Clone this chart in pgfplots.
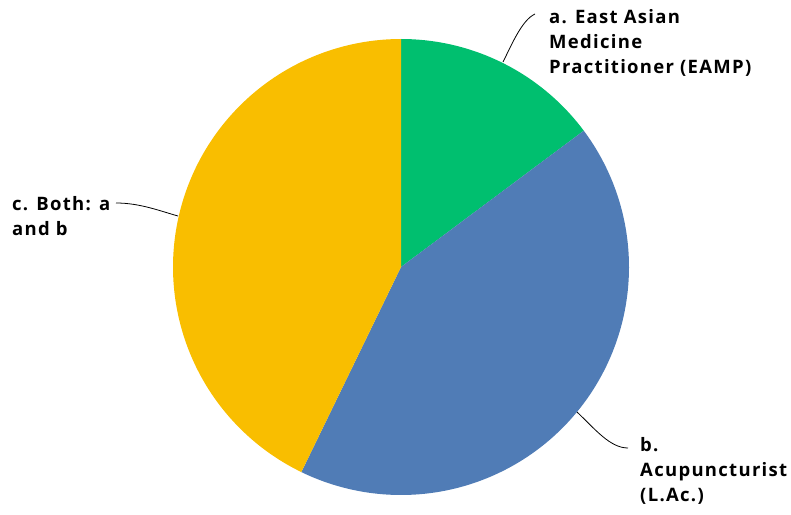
\documentclass[border=0pt]{standalone}
\usepackage{pgfplots}
\pgfplotsset{compat=1.18}
\usepackage{fontspec}
\setmainfont{Open Sans}[LetterSpace=7]

\definecolor{smgreen}{HTML}{00BF6F}
\definecolor{smblue}{HTML}{507CB6}
\definecolor{smyellow}{HTML}{F9BE00}

% shares in percent
\def\va{14.8}
\def\vb{42.4}
\def\vc{42.8}

\tikzset{lbl/.style={font=\fontsize{18.5}{25}\selectfont\bfseries, inner sep=0pt, align=left, anchor=north west}}

\begin{document}
\begin{tikzpicture}
\pgfmathsetmacro{\aS}{90}
\pgfmathsetmacro{\aE}{90-3.6*\va}
\pgfmathsetmacro{\bE}{\aE-3.6*\vb}
\pgfmathsetmacro{\cE}{\bE-3.6*\vc}
\begin{axis}[
    width=791pt, height=514pt, scale only axis,
    xmin=0, xmax=791, ymin=0, ymax=514,
    hide axis, clip=false,
]
\path (0,0) rectangle (791,514);
\addplot[fill=smgreen, draw=none, domain=\aE:\aS, samples=80, variable=\t]
    ({401+228*cos(\t)}, {247+228*sin(\t)}) -- (401,247) -- cycle;
\addplot[fill=smblue, draw=none, domain=\bE:\aE, samples=150, variable=\t]
    ({401+228*cos(\t)}, {247+228*sin(\t)}) -- (401,247) -- cycle;
\addplot[fill=smyellow, draw=none, domain=\cE:\bE, samples=150, variable=\t]
    ({401+228*cos(\t)}, {247+228*sin(\t)}) -- (401,247) -- cycle;

\draw[thick] (503,452) .. controls (512,470) and (522,494) .. (535,500);
\draw[thick] (116,311) .. controls (140,311) and (160,303) .. (178,298);
\draw[thick] (577,102) .. controls (595,85) and (610,66) .. (628,66);

\node[lbl] at (549,505) {a. East Asian\\Medicine\\Practitioner (EAMP)};
\node[lbl] at (12,318) {c. Both: a\\and b};
\node[lbl] at (640,77) {b.\\Acupuncturist\\(L.Ac.)};
\end{axis}
\end{tikzpicture}
\end{document}
